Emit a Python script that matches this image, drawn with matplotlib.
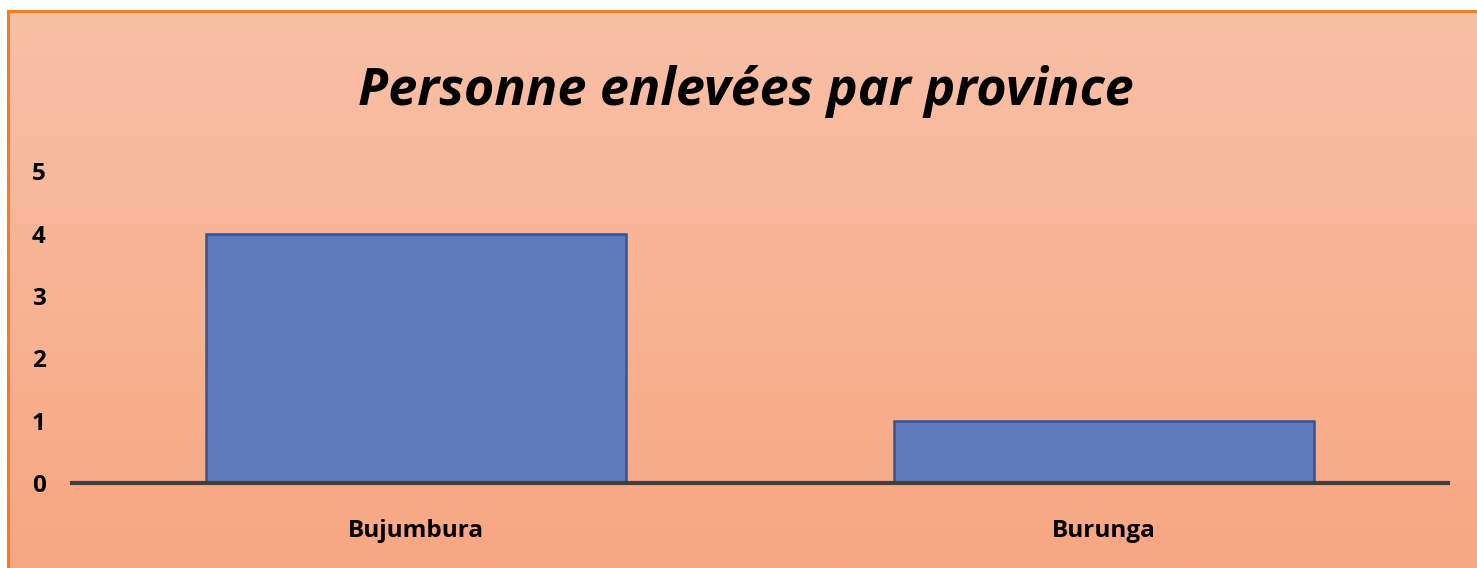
import matplotlib
matplotlib.use("Agg")
import matplotlib.pyplot as plt
import numpy as np
from matplotlib.lines import Line2D

categories = ["Bujumbura", "Burunga"]
values = [4, 1]
yticks = [0, 1, 2, 3, 4, 5]
title = "Personne enlevées par province"

W, H = 1477, 568
fig = plt.figure(figsize=(W / 100, H / 100), dpi=100)
fig.patch.set_facecolor("white")

# gradient background frame
x0 = 8 / W
ytop = (H - 11) / H
bg = fig.add_axes([x0, 0, 1 - x0, ytop], zorder=-5)
top = np.array([248, 192, 167]) / 255
bot = np.array([247, 166, 130]) / 255
t = np.linspace(0, 1, 256)[:, None]
grad = top[None, :] * (1 - t) + bot[None, :] * t
img = np.repeat(grad[:, None, :], 2, axis=1)
bg.imshow(img, aspect="auto", extent=[0, 1, 0, 1], interpolation="bilinear")
bg.set_axis_off()
fig.add_artist(Line2D([x0, 1], [ytop, ytop], transform=fig.transFigure, color="#ED7D31", lw=2.2))
fig.add_artist(Line2D([x0, x0], [0, ytop], transform=fig.transFigure, color="#ED7D31", lw=2.2))

ax = fig.add_axes([72 / W, (H - 483) / H, (1448 - 72) / W, (483 - 171.5) / H])
ax.patch.set_alpha(0)
x = np.arange(len(categories))
ax.bar(x, values, width=0.61, color="#5F7BBD", edgecolor="#2F5597", linewidth=1.8, zorder=2)
ax.set_xlim(-0.5, len(categories) - 0.5)
ax.set_ylim(0, 5)
ax.set_yticks(yticks)
ax.set_xticks(x)
ax.set_xticklabels(categories)
for s in ["top", "right", "left"]:
    ax.spines[s].set_visible(False)
ax.spines["bottom"].set_color("#404040")
ax.spines["bottom"].set_linewidth(3)
ax.spines["bottom"].set_zorder(3)
ax.tick_params(axis="y", length=0, pad=19, labelsize=17.5)
ax.tick_params(axis="x", length=0, pad=26, labelsize=17.5)
for lab in ax.get_yticklabels() + ax.get_xticklabels():
    lab.set_fontweight("bold")
    lab.set_family("Open Sans")
    lab.set_color("#000000")

fig.text((358 + 1133) / 2 / W, (H - 105) / H, title, ha="center", va="baseline",
         fontsize=37.5, fontweight="bold", fontstyle="italic", family="Open Sans", color="black")

fig.savefig("out.png", dpi=100)
